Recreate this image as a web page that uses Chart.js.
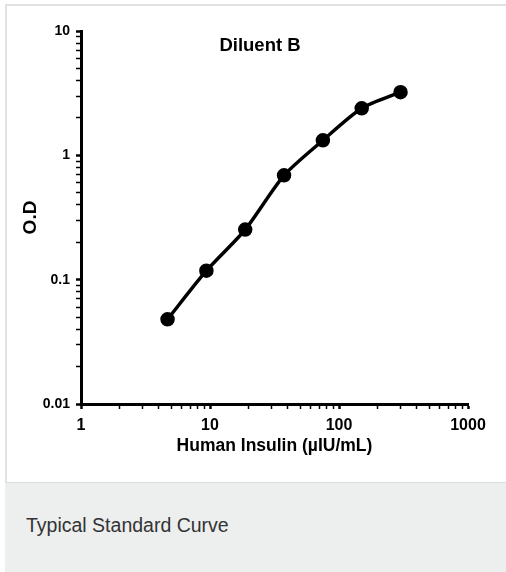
<!DOCTYPE html>
<html><head><meta charset="utf-8">
<script src="https://cdn.jsdelivr.net/npm/chart.js@4.4.1/dist/chart.umd.min.js"></script>
<style>
html,body{margin:0;padding:0;background:#fff;width:506px;height:572px;overflow:hidden;}
#box{position:absolute;left:5px;top:4px;width:501px;height:478px;border-left:2px solid #e2e2e2;border-top:2px solid #e2e2e2;box-sizing:border-box;}
#wrap{position:absolute;left:0;top:0;width:499px;height:476px;}
#cap{position:absolute;left:5px;top:482px;width:501px;height:90px;background:#edeeee;border-top:1px solid #dcdddd;box-sizing:border-box;}
#cap span{position:absolute;left:21px;top:32px;font-family:"Liberation Sans",Arial,sans-serif;font-size:19.5px;line-height:20px;color:#333;white-space:nowrap;}
</style>
</head><body>
<div id="box"><div id="wrap"><canvas id="c" width="499" height="476"></canvas></div></div>
<div id="cap"><span>Typical Standard Curve</span></div>
<script>
// Data
const concentrations = [4.6875, 9.375, 18.75, 37.5, 75, 150, 300];
const odValues = [0.048, 0.118, 0.253, 0.69, 1.32, 2.39, 3.22];
const chartTitle = "Diluent B";
const xAxisTitle = "Human Insulin (\u00b5IU/mL)";
const yAxisTitle = "O.D";
const xTickValues = [1,2,3,4,5,6,7,8,9,10,20,30,40,50,60,70,80,90,100,200,300,400,500,600,700,800,900,1000];
const xMajorTicks = [1,10,100,1000];
const xTickLabels = ["1","10","100","1000"];
const yTickValues = [0.01,0.02,0.03,0.04,0.05,0.06,0.07,0.08,0.09,0.1,0.2,0.3,0.4,0.5,0.6,0.7,0.8,0.9,1,2,3,4,5,6,7,8,9,10];
const yMajorTicks = [0.01,0.1,1,10];
const yTickLabels = ["0.01","0.1","1","10"];

const FONT = '"Liberation Sans",Arial,sans-serif';

function majorIndex(list, v){
  for (let i=0;i<list.length;i++){ if (Math.abs(list[i]-v) < list[i]*1e-6) return i; }
  return -1;
}

const titlePlugin = {
  id: 'innerTitle',
  afterDraw(chart){
    const ctx = chart.ctx;
    ctx.save();
    ctx.font = 'bold 18.5px ' + FONT;
    ctx.fillStyle = '#000';
    ctx.textAlign = 'center';
    ctx.textBaseline = 'middle';
    ctx.fillText(chartTitle, 253, 40);
    ctx.restore();
  }
};

new Chart(document.getElementById('c'), {
  type: 'line',
  data: {
    datasets: [{
      data: concentrations.map((x,i)=>({x:x, y:odValues[i]})),
      borderColor: '#000',
      backgroundColor: '#000',
      borderWidth: 3.5,
      pointRadius: 5.5,
      pointBackgroundColor: '#000',
      pointBorderColor: '#000',
      tension: 0.25,
      fill: false
    }]
  },
  options: {
    responsive: false,
    animation: false,
    devicePixelRatio: 1,
    layout: { padding: { top: 25, right: 38, left: 0, bottom: 0 } },
    plugins: { legend: { display: false }, tooltip: { enabled: false }, title: { display: false } },
    scales: {
      x: {
        type: 'logarithmic',
        min: 1, max: 1000,
        afterBuildTicks(scale){ scale.ticks = xTickValues.map(v=>({value:v, major: majorIndex(xMajorTicks,v)>=0})); },
        afterFit(scale){ scale.height = 78; },
        border: { display: true, color: '#000', width: 3 },
        grid: { display: true, drawOnChartArea: false, drawTicks: true, tickLength: 5, tickColor: '#000',
                tickWidth: (ctx)=> (ctx.tick && majorIndex(xMajorTicks, ctx.tick.value)>=0) ? 2.5 : 1.5 },
        ticks: {
          autoSkip: false, maxRotation: 0, padding: 7, color: '#000',
          font: { family: FONT, size: 16, weight: 'bold' },
          callback(v){ const i = majorIndex(xMajorTicks, v); return i>=0 ? xTickLabels[i] : ''; }
        },
        title: { display: true, text: xAxisTitle, color: '#000',
                 font: { family: FONT, size: 17.5, weight: 'bold' }, padding: { top: 0, bottom: 25 } }
      },
      y: {
        type: 'logarithmic',
        min: 0.01, max: 10,
        afterBuildTicks(scale){ scale.ticks = yTickValues.map(v=>({value:v, major: majorIndex(yMajorTicks,v)>=0})); },
        afterFit(scale){ scale.width = 74; },
        border: { display: true, color: '#000', width: 3 },
        grid: { display: true, drawOnChartArea: false, drawTicks: true, tickLength: 5, tickColor: '#000',
                tickWidth: (ctx)=> (ctx.tick && majorIndex(yMajorTicks, ctx.tick.value)>=0) ? 2.5 : 1.5 },
        ticks: {
          autoSkip: false, padding: 6, color: '#000',
          font: { family: FONT, size: 14, weight: 'bold' },
          callback(v){ const i = majorIndex(yMajorTicks, v); return i>=0 ? yTickLabels[i] : ''; }
        },
        title: { display: true, text: yAxisTitle, color: '#000',
                 font: { family: FONT, size: 19, weight: 'bold' }, padding: { top: 12, bottom: 0 } }
      }
    }
  },
  plugins: [titlePlugin]
});
</script>
</body></html>
